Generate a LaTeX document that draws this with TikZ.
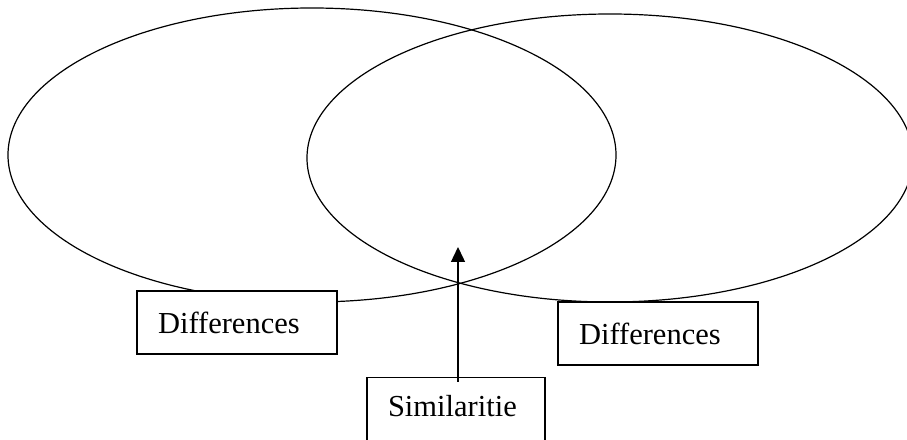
\documentclass[tikz,border=0pt]{standalone}
\usepackage{fontspec}
\setmainfont{Liberation Serif}
\usetikzlibrary{arrows.meta}
\begin{document}
\begin{tikzpicture}[x=1pt,y=1pt,
  ring/.style={draw=black,line width=1.2pt},
  labelbox/.style={draw=black,fill=white,line width=1.4pt,rectangle,
    minimum height=63pt,inner xsep=21pt,align=left,
    font=\fontsize{30.5}{34}\selectfont},
  pointer/.style={draw=black,line width=1.4pt,-{Triangle[length=15pt,width=14pt]}}]
\clip (0,0) rectangle (907,439);
\fill[white] (0,0) rectangle (907,439);
% ellipses
\draw[ring] (312,284) ellipse [x radius=304, y radius=147];
\draw[ring] (610,281) ellipse [x radius=303, y radius=144];
% boxes
\node[labelbox,text width=158pt] (dl) at (237,116.5) {Differences};
\node[labelbox,text width=158pt] (dr) at (658,105.5) {Differences};
\node[labelbox,text width=136pt,anchor=north,inner ysep=0pt,
      text height=39pt,text depth=30pt] (sim) at (456,62) {Similaritie};
\coordinate (tip) at (458,192);
\draw[pointer] ([xshift=2pt,yshift=-5pt]sim.north) -- (tip);
\end{tikzpicture}
\end{document}
